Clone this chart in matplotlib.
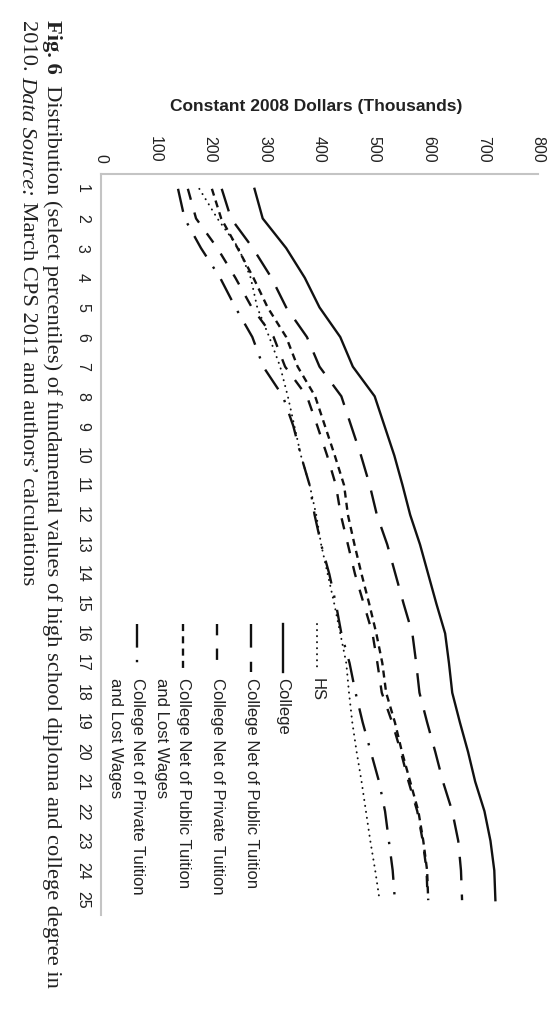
import matplotlib
matplotlib.use("Agg")
import matplotlib.pyplot as plt
from matplotlib.lines import Line2D

# percentiles (categories) and values in thousands of 2008 dollars
pct = [1, 2, 3, 4, 5, 6, 7, 8, 9, 10, 11, 12, 13, 14, 15, 16, 17, 18, 19, 20, 21, 22, 23, 24, 25]
hs = [180, 213, 252, 274, 286, 308, 328, 342, 354, 366, 382, 394, 403, 415, 427, 438, 449, 454, 460, 468, 477, 485, 493, 502, 510]
college = [281, 296, 339, 373, 400, 438, 461, 501, 519, 537, 552, 566, 584, 599, 614, 630, 637, 643, 657, 672, 685, 702, 713, 720, 722]
net_public = [221, 238, 278, 312, 339, 377, 400, 440, 458, 476, 492, 505, 524, 539, 554, 570, 577, 583, 597, 612, 626, 643, 654, 659, 661]
net_private = [159, 174, 213, 246, 276, 316, 337, 377, 396, 414, 430, 439, 452, 465, 481, 497, 506, 514, 533, 549, 563, 579, 589, 596, 598]
net_public_lw = [203, 220, 250, 279, 305, 339, 360, 392, 410, 428, 445, 452, 464, 477, 491, 504, 515, 522, 538, 551, 566, 581, 590, 597, 599]
net_private_lw = [141, 153, 183, 218, 246, 277, 297, 333, 352, 366, 382, 391, 403, 418, 430, 440, 455, 466, 479, 494, 509, 520, 527, 534, 538]

value_ticks = [0, 100, 200, 300, 400, 500, 600, 700, 800]

labels = ["HS", "College", "College Net of Public Tuition", "College Net of Private Tuition",
          "College Net of Public Tuition\nand Lost Wages", "College Net of Private Tuition\nand Lost Wages"]
series = [hs, college, net_public, net_private, net_public_lw, net_private_lw]
styles = [
    dict(lw=1.4, ls=(0, (0.1, 3.0)), dash_capstyle="round"),
    dict(lw=1.7, ls="-"),
    dict(lw=1.7, ls=(0, (10, 6))),
    dict(lw=1.7, ls=(0, (4.8, 5.6))),
    dict(lw=1.7, ls=(0, (3.0, 2.2))),
    dict(lw=1.7, ls=(0, (10, 5.2, 1, 5.2))),
]

W, H = 550, 1027
sans = ["Liberation Sans", "DejaVu Sans"]
serif = ["Liberation Serif", "DejaVu Serif"]

def fx(px):
    return px / W

def fy(py):
    return 1 - py / H

fig = plt.figure(figsize=(W / 100, H / 100), dpi=100)
ax = fig.add_axes([fx(101), fy(915), fx(538) - fx(101), fy(174) - fy(915)])

for vals, st in zip(series, styles):
    ax.plot(vals, pct, color="#111111", **st)

ax.set_xlim(0, 800)
ax.set_ylim(25.5, 0.5)
ax.set_xticks(value_ticks)
ax.set_yticks(pct)
ax.xaxis.tick_top()
ax.tick_params(length=0, pad=8, labelsize=11.5, colors="#222222")
for lab in ax.get_xticklabels():
    lab.set_rotation(-90)
    lab.set_family(sans)
for lab in ax.get_yticklabels():
    lab.set_rotation(-90)
    lab.set_va("center")
    lab.set_family(sans)

for side in ["right", "bottom"]:
    ax.spines[side].set_visible(False)
for side in ["top", "left"]:
    ax.spines[side].set_color("#c4c4c4")
    ax.spines[side].set_linewidth(1.5)

fig.text(fx(316), fy(106), "Constant 2008 Dollars (Thousands)", ha="center", va="center",
         fontsize=12.5, fontweight="bold", family=sans, color="#222222")

# legend drawn column by column (rotated page)
leg_cols = [317, 283, 251, 217, 183, 137]
for cx, lab, st in zip(leg_cols, labels, styles):
    fig.add_artist(Line2D([fx(cx), fx(cx)], [fy(624), fy(672)], color="#111111", **st))
    for i, line in enumerate(lab.split("\n")):
        fig.text(fx(cx - 22 * i), fy(678), line, rotation=-90, ha="center", va="top",
                 fontsize=12, family=sans, color="#222222")

# caption, written in pieces so that bold/italic parts can be mixed
renderer = fig.canvas.get_renderer()
caption = [
    (52, [("Fig. 6", "bold", "normal"),
          ("  Distribution (select percentiles) of fundamental values of high school diploma and college degree in", "normal", "normal")]),
    (27, [("2010. ", "normal", "normal"), ("Data Source:", "normal", "italic"),
          (" March CPS 2011 and authors\u2019 calculations", "normal", "normal")]),
]
for cx, pieces in caption:
    ytop = fy(20)
    for s, wt, sty in pieces:
        t = fig.text(fx(cx), ytop, s, rotation=-90, ha="center", va="top", fontsize=16.2,
                     family=serif, fontweight=wt, fontstyle=sty, color="#222222")
        bb = t.get_window_extent(renderer)
        ytop = bb.y0 / H

fig.savefig("out.png", dpi=100)
